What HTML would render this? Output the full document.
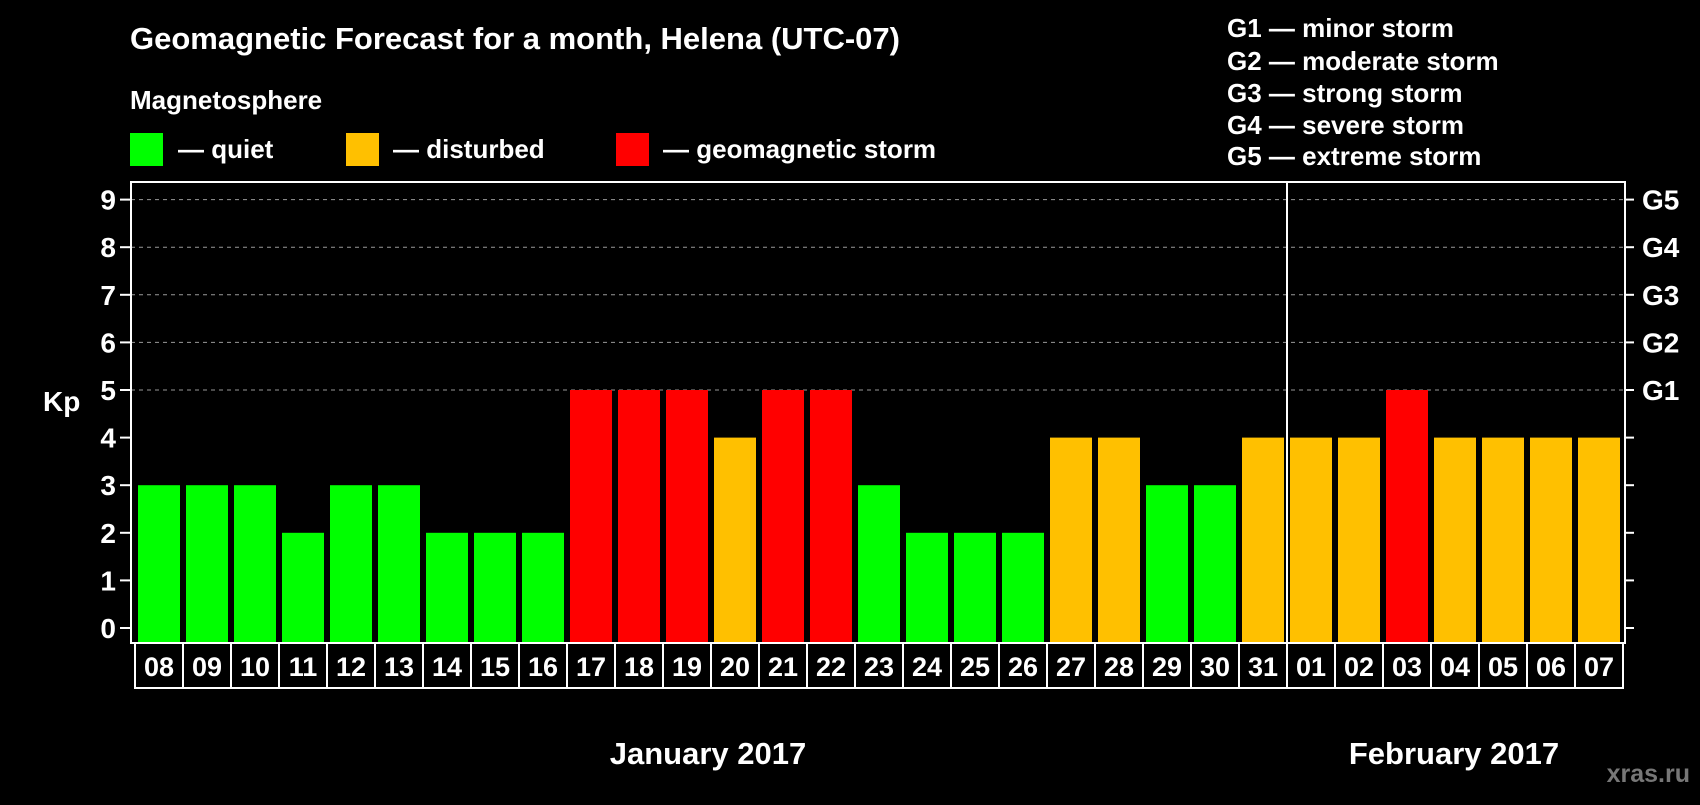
<!DOCTYPE html>
<html><head><meta charset="utf-8"><style>
body{margin:0;background:#000;width:1700px;height:800px;overflow:hidden;font-family:"Liberation Sans",sans-serif;}
svg text{font-family:"Liberation Sans",sans-serif;font-weight:bold;fill:#fff;}
</style></head><body>
<svg width="1700" height="800">
<text x="130" y="49" font-size="31">Geomagnetic Forecast for a month, Helena (UTC-07)</text>
<text x="130" y="109" font-size="26">Magnetosphere</text>
<rect x="130" y="133" width="33" height="33" fill="#00ff00"/>
<text x="178" y="158" font-size="26">— quiet</text>
<rect x="346" y="133" width="33" height="33" fill="#ffc000"/>
<text x="393" y="158" font-size="26">— disturbed</text>
<rect x="616" y="133" width="33" height="33" fill="#ff0000"/>
<text x="663" y="158" font-size="26">— geomagnetic storm</text>
<g font-size="26">
<text x="1227" y="37">G1 — minor storm</text>
<text x="1227" y="70">G2 — moderate storm</text>
<text x="1227" y="102">G3 — strong storm</text>
<text x="1227" y="134">G4 — severe storm</text>
<text x="1227" y="165">G5 — extreme storm</text>
</g>
<text x="43" y="411" font-size="28">Kp</text>
<g id="plot"></g>
<text x="708" y="764" font-size="31" text-anchor="middle">January 2017</text>
<text x="1454" y="764" font-size="31" text-anchor="middle">February 2017</text>
<text x="1690" y="782" font-size="25" text-anchor="end" style="fill:#777">xras.ru</text>
</svg>
<script>
const days=["08","09","10","11","12","13","14","15","16","17","18","19","20","21","22","23","24","25","26","27","28","29","30","31","01","02","03","04","05","06","07"];
const kp=[3,3,3,2,3,3,2,2,2,5,5,5,4,5,5,3,2,2,2,4,4,3,3,4,4,4,5,4,4,4,4];
const yTicks=[0,1,2,3,4,5,6,7,8,9];
const gLabels=["G1","G2","G3","G4","G5"];
const NS="http://www.w3.org/2000/svg";
const g=document.getElementById('plot');
const L=131,R=1625,T=182,B=643,step=48,x0=135;
const y=v=>628-v*47.6;
const xb=i=>x0+i*step;
function mk(t,a){const e=document.createElementNS(NS,t);for(const k in a)e.setAttribute(k,a[k]);g.appendChild(e);return e;}
yTicks.forEach(v=>{
 if(v>=5){const l=mk('line',{x1:L,x2:R,y1:y(v),y2:y(v),stroke:'#999','stroke-dasharray':'4 4','stroke-width':1});
 
 }
 const t1=mk('line',{x1:120,x2:L,y1:y(v),y2:y(v),stroke:'#fff','stroke-width':2});
 
 
 const t2=mk('line',{x1:R,x2:R+9,y1:y(v),y2:y(v),stroke:'#fff','stroke-width':2});
 
 
 const tx=mk('text',{x:116,y:y(v)+10,'font-size':28,'text-anchor':'end'});tx.textContent=v;
 
 
});
gLabels.forEach((s,i)=>{const t=mk('text',{x:1642,y:y(5+i)+10,'font-size':28});t.textContent=s;
 
 });
kp.forEach((v,i)=>{
 const c=v>=5?'#ff0000':v==4?'#ffc000':'#00ff00';
 const r=mk('rect',{x:xb(i)+3,y:y(v),width:42,height:B-y(v),fill:c});
 
 
 const b=mk('rect',{x:xb(i),y:B,width:step,height:45,fill:'none',stroke:'#fff','stroke-width':2});
 
 
 const t=mk('text',{x:xb(i)+step/2,y:B+33,'font-size':27,'text-anchor':'middle'});t.textContent=days[i];
 
 
});
const f=mk('rect',{x:L,y:T,width:R-L,height:B-T,fill:'none',stroke:'#fff','stroke-width':2});


const di=days.indexOf("01");
const d=mk('line',{x1:xb(di),x2:xb(di),y1:T,y2:B+45,stroke:'#fff','stroke-width':2});


</script>
</body></html>
